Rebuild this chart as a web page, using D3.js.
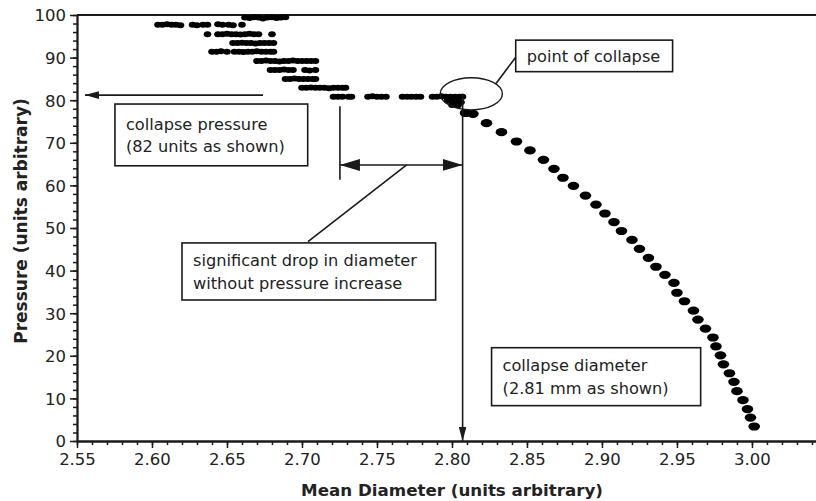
<!DOCTYPE html>
<html><head><meta charset="utf-8">
<script src="https://cdn.jsdelivr.net/npm/d3@7"></script>
<style>
html,body{margin:0;padding:0;background:#fff;}
svg{display:block;}
text{font-family:"DejaVu Sans",sans-serif;fill:#222;}
</style></head>
<body>
<svg id="chart" width="816" height="501"></svg>
<script>
// ---------- data ----------
const xTicks = [2.55,2.60,2.65,2.70,2.75,2.80,2.85,2.90,2.95,3.00];
const yTicks = [0,10,20,30,40,50,60,70,80,90,100];
const xMinorTicks = d3.range(0,50).map(i => 2.55 + i*0.01);
const yMinorTicks = d3.range(0,51).map(i => i*2);

// stepwise loading before collapse (diameter, pressure)
const preCollapseX = [
  2.662,2.665,2.668,2.671,2.674,2.677,2.680,2.683,2.686,2.689,
  2.604,2.607,2.610,2.613,2.616,2.619,2.627,2.630,2.634,2.637,2.644,2.647,2.651,2.654,2.660,
  2.637,2.644,2.647,2.650,2.653,2.656,2.659,2.662,2.665,2.668,2.671,2.680,
  2.654,2.657,2.660,2.663,2.666,2.669,2.672,2.675,2.678,2.681,
  2.640,2.643,2.646,2.650,2.655,2.658,2.661,2.664,2.667,2.670,2.673,2.676,2.679,2.681,
  2.670,2.673,2.676,2.679,2.682,2.685,2.688,2.691,2.694,2.697,2.700,2.703,2.706,2.709,
  2.679,2.682,2.685,2.688,2.691,2.694,2.702,2.705,2.709,
  2.689,2.692,2.695,2.698,2.701,2.704,2.707,2.709,
  2.700,2.703,2.706,2.709,2.712,2.715,2.718,2.721,2.724,2.727,2.729,
  2.721,2.724,2.727,2.731,2.733,2.744,2.747,2.750,2.753,2.756,2.767,2.770,2.773,2.776,2.779,
  2.787,2.790,2.793,2.796,2.799,2.802,2.805,2.807,
  2.797,2.801,2.804,2.806,2.800,2.804
];
const preCollapseY = [
  99.4,99.3,99.5,99.4,99.2,99.4,99.5,99.3,99.4,99.5,
  97.7,97.7,97.8,97.7,97.7,97.6,97.7,97.6,97.7,97.7,97.8,97.7,97.7,97.6,97.7,
  95.5,95.5,95.5,95.6,95.5,95.5,95.4,95.5,95.6,95.5,95.5,95.5,
  93.4,93.4,93.5,93.4,93.4,93.3,93.4,93.4,93.4,93.4,
  91.4,91.4,91.5,91.4,91.4,91.4,91.3,91.4,91.4,91.5,91.4,91.4,91.4,91.4,
  89.2,89.2,89.3,89.2,89.2,89.1,89.2,89.2,89.3,89.2,89.2,89.2,89.2,89.2,
  87.1,87.1,87.1,87.2,87.1,87.1,87.1,87.0,87.1,
  85.0,85.0,85.1,85.0,85.0,85.0,85.0,85.0,
  82.9,82.9,83.0,82.9,82.9,82.9,82.8,82.9,82.9,82.9,82.9,
  80.8,80.8,80.8,80.8,80.8,80.8,80.9,80.8,80.8,80.8,80.8,80.8,80.8,80.8,80.8,
  80.8,80.8,80.9,80.8,80.8,80.8,80.8,80.8,
  79.9,79.9,79.7,79.5,78.9,78.8
];

// post-collapse curve (diameter, pressure)
const postCollapseX = [
  2.809,2.814,2.823,2.833,2.843,2.852,2.861,2.868,2.874,2.881,2.889,2.896,2.902,2.908,2.913,2.920,2.925,
  2.931,2.936,2.942,2.948,2.950,2.955,2.961,2.964,2.969,2.974,2.976,2.979,2.981,2.985,2.988,2.990,2.994,2.997,2.999,3.0015
];
const postCollapseY = [
  77.0,76.8,74.6,72.5,70.3,68.2,66.0,63.9,61.8,59.9,57.6,55.5,53.4,51.4,49.3,47.2,45.1,
  43.0,40.9,39.0,37.1,34.8,32.8,30.6,28.5,26.4,24.3,22.2,20.1,18.0,15.9,13.9,11.7,9.6,7.5,5.5,3.4
];

// annotation anchors in data units
const pressureArrow = {y:81.2, x0:2.674, x1:2.5553};
const diameterArrow = {x:2.8071, y0:81.5, y1:0};
const dropMarker = {x:2.7253, y0:78.6, y1:61.3};
const dropArrow = {y:64.8, x0:2.7253, x1:2.8071};
const dropLeader = {x0:2.7698, y0:64.8, x1:2.704, y1:46.8};
const collapseEllipse = {cx:2.8129, cy:81.5, rx:0.0207, ry:3.76};
const collapseLeader = {x0:2.8291, y0:83.8, x1:2.8425, y1:90.1};
const boxes = [
  {x0:2.5753, x1:2.7038, y0:79.1, y1:64.6, lines:["collapse pressure","(82 units as shown)"]},
  {x0:2.6200, x1:2.7891, y0:46.5, y1:33.1, lines:["significant drop in diameter","without pressure increase"]},
  {x0:2.8425, x1:2.9471, y0:94.1, y1:86.7, lines:["point of collapse"]},
  {x0:2.8264, x1:2.9658, y0:21.9, y1:8.3, lines:["collapse diameter","(2.81 mm as shown)"]}
];
const xTitle = "Mean Diameter (units arbitrary)";
const yTitle = "Pressure (units arbitrary)";

// ---------- chart ----------
const W = 816, H = 501;
const margin = {left:77, right:0, top:15, bottom:60};
const svg = d3.select("#chart");
const x = d3.scaleLinear().domain([2.55, 3.0427]).range([margin.left, W - margin.right]);
const y = d3.scaleLinear().domain([0, 100]).range([H - margin.bottom, margin.top]);
const ink = "#1a1a1a";

// markers
const defs = svg.append("defs");
function marker(id, len, half) {
  defs.append("marker").attr("id", id)
    .attr("viewBox", `0 ${-half} ${len} ${2*half}`)
    .attr("refX", len).attr("refY", 0)
    .attr("markerUnits", "userSpaceOnUse")
    .attr("markerWidth", len).attr("markerHeight", 2*half)
    .attr("orient", "auto-start-reverse")
    .append("path").attr("d", `M0,${-half}L${len},0L0,${half}Z`).attr("fill", ink);
}
marker("arrSmall", 14, 3.8);
marker("arrBig", 20, 6);

// top frame line
svg.append("line").attr("x1", x.range()[0]).attr("x2", x.range()[1])
  .attr("y1", y(100)).attr("y2", y(100)).attr("stroke", ink).attr("stroke-width", 1.8);

// axes
const gxMinor = svg.append("g").attr("transform", `translate(0,${y(0)})`)
  .call(d3.axisBottom(x).tickValues(xMinorTicks).tickSize(4).tickFormat("").tickSizeOuter(0));
const gx = svg.append("g").attr("transform", `translate(0,${y(0)})`)
  .call(d3.axisBottom(x).tickValues(xTicks).tickSize(7).tickPadding(5).tickFormat(d3.format(".2f")).tickSizeOuter(0));
const gyMinor = svg.append("g").attr("transform", `translate(${x(2.55)},0)`)
  .call(d3.axisLeft(y).tickValues(yMinorTicks).tickSize(4).tickFormat("").tickSizeOuter(0));
const gy = svg.append("g").attr("transform", `translate(${x(2.55)},0)`)
  .call(d3.axisLeft(y).tickValues(yTicks).tickSize(7).tickPadding(4).tickFormat(d3.format("d")).tickSizeOuter(0));
[gx, gxMinor, gy, gyMinor].forEach(g => {
  g.selectAll("path.domain").attr("stroke", ink).attr("stroke-width", 1.8);
  g.selectAll(".tick line").attr("stroke", ink).attr("stroke-width", 1.5);
  g.selectAll("text").attr("font-size", "16.5px")
    .attr("font-family", '"DejaVu Sans",sans-serif').attr("fill", "#222");
});
gy.selectAll("text").attr("dy", "0.36em");

// axis titles
svg.append("text").attr("x", 452).attr("y", 496).attr("text-anchor", "middle")
  .attr("font-size", "16.7px").attr("font-weight", "bold").text(xTitle);
svg.append("text").attr("transform", `translate(27,${221}) rotate(-90)`).attr("text-anchor", "middle")
  .attr("font-size", "17px").attr("font-weight", "bold").text(yTitle);

// data points
const pre = preCollapseX.map((d, i) => [d, preCollapseY[i]]);
const post = postCollapseX.map((d, i) => [d, postCollapseY[i]]);
svg.append("g").selectAll("ellipse").data(pre).join("ellipse")
  .attr("cx", d => x(d[0])).attr("cy", d => y(d[1])).attr("rx", 3.8).attr("ry", 3).attr("fill", "#000");
svg.append("g").selectAll("ellipse").data(post).join("ellipse")
  .attr("cx", d => x(d[0])).attr("cy", d => y(d[1])).attr("rx", 5.8).attr("ry", 4.1).attr("fill", "#000");

// annotations
const ann = svg.append("g").attr("stroke", ink).attr("stroke-width", 1.6).attr("fill", "none");
ann.append("line").attr("x1", x(pressureArrow.x0)).attr("x2", x(pressureArrow.x1))
  .attr("y1", y(pressureArrow.y)).attr("y2", y(pressureArrow.y)).attr("marker-end", "url(#arrSmall)");
ann.append("line").attr("x1", x(diameterArrow.x)).attr("x2", x(diameterArrow.x))
  .attr("y1", y(diameterArrow.y0)).attr("y2", y(diameterArrow.y1)).attr("marker-end", "url(#arrSmall)");
ann.append("line").attr("x1", x(dropMarker.x)).attr("x2", x(dropMarker.x))
  .attr("y1", y(dropMarker.y0)).attr("y2", y(dropMarker.y1));
ann.append("line").attr("x1", x(dropArrow.x0)).attr("x2", x(dropArrow.x1))
  .attr("y1", y(dropArrow.y)).attr("y2", y(dropArrow.y))
  .attr("marker-start", "url(#arrBig)").attr("marker-end", "url(#arrBig)");
ann.append("line").attr("x1", x(dropLeader.x0)).attr("y1", y(dropLeader.y0))
  .attr("x2", x(dropLeader.x1)).attr("y2", y(dropLeader.y1));
ann.append("ellipse").attr("cx", x(collapseEllipse.cx)).attr("cy", y(collapseEllipse.cy))
  .attr("rx", x(collapseEllipse.cx + collapseEllipse.rx) - x(collapseEllipse.cx))
  .attr("ry", y(0) - y(collapseEllipse.ry)).attr("stroke-width", 1.4);
ann.append("line").attr("x1", x(collapseLeader.x0)).attr("y1", y(collapseLeader.y0))
  .attr("x2", x(collapseLeader.x1)).attr("y2", y(collapseLeader.y1));

// text boxes
boxes.forEach(b => {
  const bx = x(b.x0), by = y(b.y0), bw = x(b.x1) - x(b.x0), bh = y(b.y1) - y(b.y0);
  svg.append("rect").attr("x", bx).attr("y", by).attr("width", bw).attr("height", bh)
    .attr("fill", "#fff").attr("stroke", ink).attr("stroke-width", 1.6);
  const lh = 22.5;
  const startY = by + bh/2 - (b.lines.length - 1) * lh / 2 + 6;
  b.lines.forEach((t, i) => {
    svg.append("text").attr("x", bx + 11).attr("y", startY + i * lh)
      .attr("font-size", "16.2px").text(t);
  });
});
</script>
</body></html>
